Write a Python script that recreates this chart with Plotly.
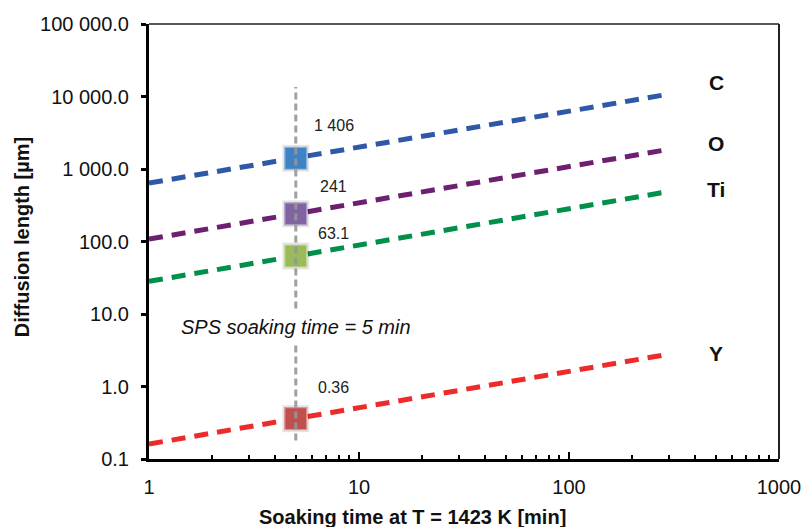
import math
import plotly.graph_objects as go

# ---- data ----
elements = ["C", "O", "Ti", "Y"]
times = [1, 5, 300]                      # soaking time [min]
length_C = [640, 1406, 10800]            # diffusion length [µm]
length_O = [108, 241, 1870]
length_Ti = [28.2, 63.1, 490]
length_Y = [0.161, 0.36, 2.8]
soak_time = 5
soak_label_values = ["1 406", "241", "63.1", "0.36"]
marker_values = [1406, 241, 63.1, 0.36]
guide_y = [0.18, 13500]

x_tickvals = [1, 10, 100, 1000]
x_ticktext = ["1", "10", "100", "1000"]
y_tickvals = [0.1, 1, 10, 100, 1000, 10000, 100000]
y_ticktext = ["0.1", "1.0", "10.0", "100.0", "1 000.0", "10 000.0", "100 000.0"]

# ---- styles ----
line_colors = ["#2f58a8", "#6d1f70", "#00904a", "#ee2b2b"]
marker_colors = ["#3f83c4", "#8064a2", "#9bbb59", "#c0504d"]
marker_borders = ["#8fb6de", "#b3a2cb", "#c6d89e", "#dc9896"]
FONT = "Arial, Liberation Sans, sans-serif"

series = [length_C, length_O, length_Ti, length_Y]

fig = go.Figure()

for vals, col in zip(series, line_colors):
    fig.add_trace(go.Scatter(
        x=[times[0], times[-1]], y=[vals[0], vals[-1]], mode="lines",
        line=dict(color=col, width=5, dash="14px,9px"),
        showlegend=False, hoverinfo="skip"))

# marker shadows
fig.add_trace(go.Scatter(
    x=[soak_time] * len(marker_values), y=marker_values, mode="markers",
    marker=dict(symbol="square", size=27, color="rgba(0,0,0,0.10)", line=dict(width=0)),
    showlegend=False, hoverinfo="skip"))
fig.add_trace(go.Scatter(
    x=[soak_time] * len(marker_values), y=marker_values, mode="markers",
    marker=dict(symbol="square", size=22, color=marker_colors,
                line=dict(width=1.2, color=marker_borders)),
    showlegend=False, hoverinfo="skip"))

# vertical guide line at soaking time
fig.add_trace(go.Scatter(
    x=[soak_time, soak_time], y=guide_y, mode="lines",
    line=dict(color="rgba(150,150,150,0.9)", width=3, dash="7px,4px"),
    showlegend=False, hoverinfo="skip"))

annotations = []
label_yshift = [33, 27, 23, 31]
for txt, v, ys in zip(soak_label_values, marker_values, label_yshift):
    annotations.append(dict(x=math.log10(soak_time), y=math.log10(v), xref="x", yref="y",
                            text=txt, showarrow=False, xshift=38, yshift=ys,
                            font=dict(family=FONT, size=16, color="#222")))

elem_yshift = [12, 6, 2, 1]
for name, vals, ys in zip(elements, series, elem_yshift):
    annotations.append(dict(x=2.7, y=math.log10(vals[-1]), xref="x", yref="y",
                            text="<b>%s</b>" % name, showarrow=False, yshift=ys,
                            font=dict(family=FONT, size=21, color="#111")))

annotations.append(dict(x=math.log10(soak_time), y=1, xref="x", yref="y", yshift=-13,
                        text="<i>SPS soaking time = 5 min</i>", showarrow=False,
                        bgcolor="white", borderpad=5,
                        font=dict(family=FONT, size=20, color="#111")))

annotations.append(dict(x=0.419, y=-0.1333, xref="paper", yref="paper",
                        xanchor="center", yanchor="middle",
                        text="<b>Soaking time at T = 1423 K [min]</b>", showarrow=False,
                        font=dict(family=FONT, size=20, color="#111")))
annotations.append(dict(x=-0.2016, y=0.51, xref="paper", yref="paper", textangle=-90,
                        xanchor="center", yanchor="middle",
                        text="<b>Diffusion length [µm]</b>", showarrow=False,
                        font=dict(family=FONT, size=20, color="#111")))

minor_x = [m * 10 ** k for k in range(3) for m in range(2, 10)]

fig.update_layout(
    width=802, height=527,
    margin=dict(l=149, r=23, t=24, b=68),
    plot_bgcolor="white", paper_bgcolor="white",
    annotations=annotations,
    shapes=[
        dict(type="line", xref="paper", yref="paper", x0=0, x1=1, y0=1, y1=1,
             line=dict(color="#222", width=1.5)),
        dict(type="line", xref="paper", yref="paper", x0=1, x1=1, y0=0, y1=1,
             line=dict(color="#222", width=2)),
    ],
    xaxis=dict(type="log", range=[0, 3], showgrid=False, zeroline=False,
               automargin=False,
               showline=True, linecolor="black", linewidth=3,
               tickmode="array", tickvals=x_tickvals, ticktext=x_ticktext,
               ticks="inside", ticklen=7, tickwidth=2, tickcolor="black",
               ticklabelstandoff=8,
               minor=dict(tickmode="array", tickvals=minor_x, ticks="inside",
                          ticklen=4, tickwidth=2, tickcolor="black", showgrid=False),
               tickfont=dict(family=FONT, size=20, color="#111")),
    yaxis=dict(type="log", range=[-1, 5], showgrid=False, zeroline=False,
               automargin=False,
               showline=True, linecolor="black", linewidth=3,
               tickmode="array", tickvals=y_tickvals, ticktext=y_ticktext,
               ticks="outside", ticklen=5, tickwidth=2.5, tickcolor="black",
               ticklabelstandoff=8,
               tickfont=dict(family=FONT, size=20, color="#111")),
)

fig.write_html("out.html")
